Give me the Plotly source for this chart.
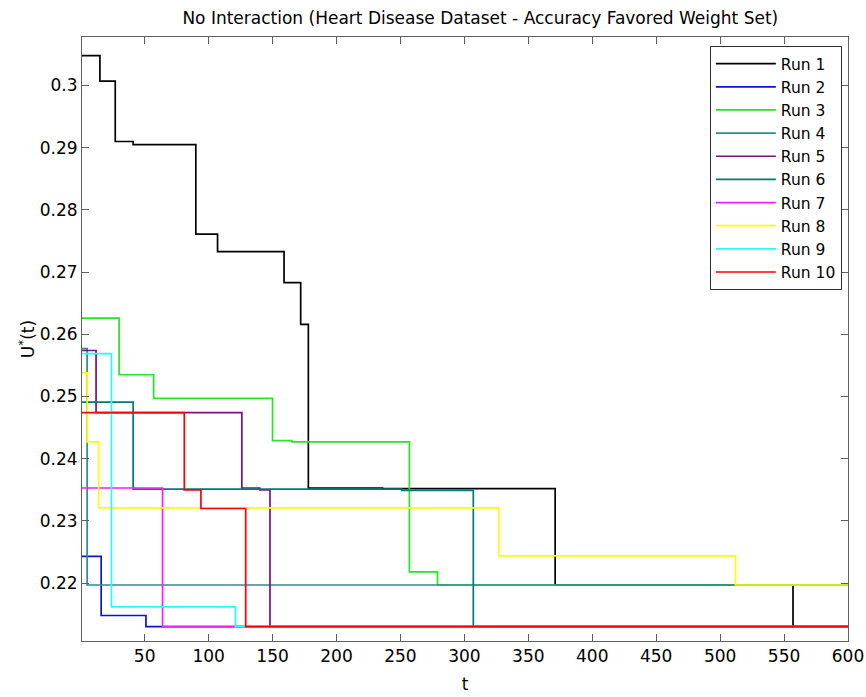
import plotly.graph_objects as go

# ---- data ----
run_names = ["Run 1", "Run 2", "Run 3", "Run 4", "Run 5",
             "Run 6", "Run 7", "Run 8", "Run 9", "Run 10"]

t_run1 = [1, 15, 27, 41, 90, 107, 159, 172, 178, 236, 371, 557, 600]
u_run1 = [0.3048, 0.3007, 0.2910, 0.2905, 0.2761, 0.2733, 0.2683, 0.2616, 0.2353, 0.2352, 0.2197, 0.2130, 0.2130]

t_run2 = [1, 16, 51, 600]
u_run2 = [0.2243, 0.2148, 0.2130, 0.2130]

t_run3 = [1, 30, 57, 150, 165, 257, 279, 600]
u_run3 = [0.2626, 0.2535, 0.2497, 0.2429, 0.2427, 0.2218, 0.2197, 0.2197]

t_run4 = [1, 5, 600]
u_run4 = [0.2577, 0.2197, 0.2197]

t_run5 = [1, 12, 126, 140, 148, 600]
u_run5 = [0.2574, 0.2474, 0.2353, 0.2350, 0.2130, 0.2130]

t_run6 = [1, 41, 251, 307, 600]
u_run6 = [0.2491, 0.2351, 0.2349, 0.2130, 0.2130]

t_run7 = [1, 64, 600]
u_run7 = [0.2353, 0.2130, 0.2130]

t_run8 = [1, 5, 14, 327, 512, 600]
u_run8 = [0.2538, 0.2427, 0.2321, 0.2244, 0.2197, 0.2197]

t_run9 = [1, 24, 121, 600]
u_run9 = [0.2569, 0.2162, 0.2130, 0.2130]

t_run10 = [1, 81, 94, 129, 600]
u_run10 = [0.2474, 0.2350, 0.2320, 0.2130, 0.2130]

x_ticks = [50, 100, 150, 200, 250, 300, 350, 400, 450, 500, 550, 600]
y_ticks = [0.22, 0.23, 0.24, 0.25, 0.26, 0.27, 0.28, 0.29, 0.30]
y_tick_labels = ["0.22", "0.23", "0.24", "0.25", "0.26", "0.27", "0.28", "0.29", "0.3"]

colors = ["#000000", "#0a14d8", "#22e822", "#2a8e8e", "#7a127a",
          "#007a7a", "#ff1aff", "#ffff00", "#22ffff", "#ff0000"]

all_t = [t_run1, t_run2, t_run3, t_run4, t_run5, t_run6, t_run7, t_run8, t_run9, t_run10]
all_u = [u_run1, u_run2, u_run3, u_run4, u_run5, u_run6, u_run7, u_run8, u_run9, u_run10]

FONT = "DejaVu Sans, Arial, Helvetica, sans-serif"

fig = go.Figure()
for name, t, u, c in zip(run_names, all_t, all_u, colors):
    fig.add_trace(go.Scatter(x=t, y=u, mode="lines", name=name,
                             line=dict(color=c, width=1.7, shape="hv")))

axis_common = dict(showgrid=False, zeroline=False, showline=True, linecolor="#606060",
                   linewidth=1, ticks="inside", ticklen=7, tickcolor="#606060",
                   mirror="ticks", automargin=False,
                   tickfont=dict(family=FONT, size=17, color="#000000"))

fig.update_layout(
    width=866, height=697,
    paper_bgcolor="white", plot_bgcolor="white",
    margin=dict(l=82, r=18, t=37, b=56, autoexpand=False),
    font=dict(family=FONT, size=17, color="#000000"),
    title=dict(text="No Interaction (Heart Disease Dataset - Accuracy Favored Weight Set)",
               x=0.52, xanchor="center", xref="paper", y=0.974, yanchor="middle",
               automargin=False,
               font=dict(family=FONT, size=17, color="#000000")),
    xaxis=dict(range=[1, 600], tickvals=x_ticks,
               title=dict(text="t", standoff=12, font=dict(family=FONT, size=17)),
               **axis_common),
    yaxis=dict(range=[0.2107, 0.3078], tickvals=y_ticks, ticktext=y_tick_labels,
               title=dict(text="U<sup>*</sup>(t)", standoff=0, font=dict(family=FONT, size=17)),
               **axis_common),
    legend=dict(x=0.992, y=0.985, xanchor="right", yanchor="top",
                bgcolor="white", bordercolor="#303030", borderwidth=1,
                font=dict(family=FONT, size=15.5, color="#000000"),
                tracegroupgap=0, itemwidth=60),
    showlegend=True,
)

fig.write_html("out.html",
               config={"displayModeBar": False},
               post_script="document.body.style.margin='0';document.body.style.overflow='hidden';")
